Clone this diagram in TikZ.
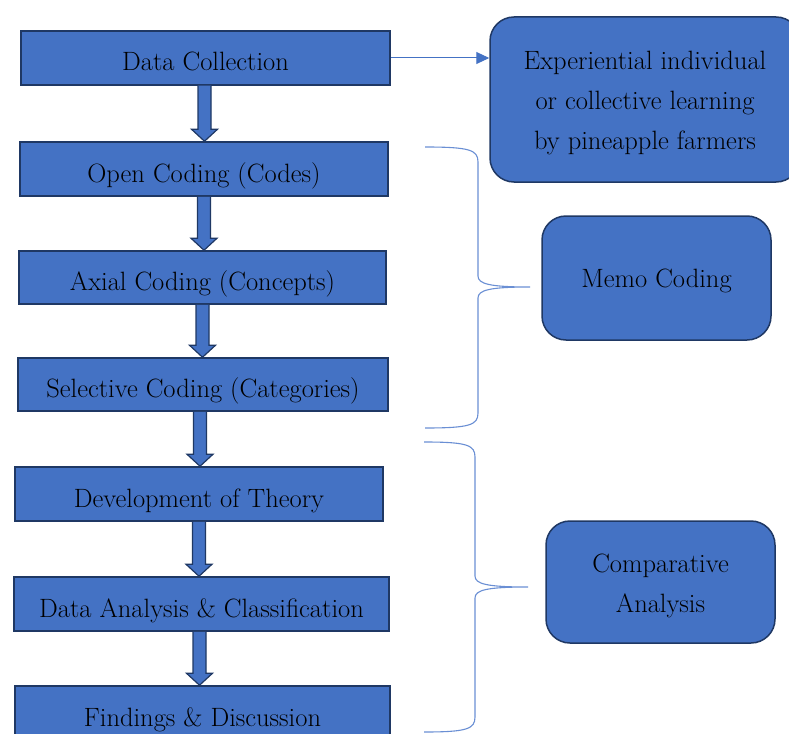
\documentclass[tikz,border=0pt]{standalone}
\usetikzlibrary{calc,arrows.meta}
\definecolor{boxfill}{HTML}{4472C4}
\definecolor{boxline}{HTML}{1F3864}
\definecolor{bracecol}{HTML}{6A8FD4}
\begin{document}
\begin{tikzpicture}[x=1pt,y=-1pt,
  every node/.style={font=\fontsize{26.5}{40}\selectfont, text=black},
  stepbox/.style={draw=boxline, line width=1.5pt, fill=boxfill, rectangle,
    inner sep=0pt, minimum height=54pt, text height=26pt, text depth=0pt},
  sidebox/.style={draw=boxline, line width=1.5pt, fill=boxfill, rounded corners=24pt,
    inner sep=0pt, align=center},
  barrow/.style={draw=boxline, line width=1.2pt, fill=boxfill},
  bracel/.style={draw=bracecol, line width=1.1pt},
  thinarrow/.style={draw=boxfill, line width=1pt, -{Triangle[length=13pt,width=12pt]}}
]
\useasboundingbox (0,0) rectangle (789,733);
\fill[white] (0,0) rectangle (789,733);

\node[stepbox, minimum width=369pt] (dc) at (205.5,58) {Data Collection};
\node[stepbox, minimum width=368pt] (oc) at (204,169) {Open Coding (Codes)};
\node[stepbox, minimum width=367pt, minimum height=53pt] (ac) at (202.5,277.5) {Axial Coding (Concepts)};
\node[stepbox, minimum width=370pt, minimum height=53pt] (sc) at (203,384.5) {Selective Coding (Categories)};
\node[stepbox, minimum width=368pt] (dt) at (199,494) {Development of Theory};
\node[stepbox, minimum width=375pt] (da) at (201.5,604) {Data Analysis \& Classification};
\node[stepbox, minimum width=375pt] (fd) at (202.5,713) {Findings \& Discussion};

\node[sidebox, minimum width=310pt, minimum height=165pt] (ex) at (645,99.5)
  {\rule{0pt}{26pt}Experiential individual\\or collective learning\\by pineapple farmers};
\node[sidebox, minimum width=229pt, minimum height=124pt, text height=24pt] (mc) at (656.5,278) {Memo Coding};
\node[sidebox, minimum width=229pt, minimum height=122pt] (ca) at (660.5,582) {\rule{0pt}{27pt}Comparative\\Analysis};

% block arrows
\newcommand{\blockarrow}[3]{%
  \draw[barrow] ($(#1.south)+(#3-6.5,0)$) -- ($(#1.south |- #2.north)+(#3-6.5,-12)$)
    -- ($(#1.south |- #2.north)+(#3-13,-12)$) -- ($(#1.south |- #2.north)+(#3,0)$)
    -- ($(#1.south |- #2.north)+(#3+13,-12)$) -- ($(#1.south |- #2.north)+(#3+6.5,-12)$)
    -- ($(#1.south)+(#3+6.5,0)$);}
\blockarrow{dc}{oc}{-1}
\blockarrow{oc}{ac}{0}
\blockarrow{ac}{sc}{0}
\blockarrow{sc}{dt}{-3}
\blockarrow{dt}{da}{0}
\blockarrow{da}{fd}{-2}

% arrow to experiential box
\draw[thinarrow] (dc.east |- 0,58) -- (ex.west |- 0,58);

% braces
\coordinate (b1t) at (425,147);
\coordinate (b1m) at (530,287);
\coordinate (b1b) at (425,428);
\draw[bracel] (b1t) .. controls (470,147) and (478,150) .. (478,162)
  -- (478,276) .. controls (478,284) and (490,287) .. (b1m)
  .. controls (490,287) and (478,290) .. (478,298)
  -- (478,413) .. controls (478,425) and (470,428) .. (b1b);
\coordinate (b2t) at (424,442);
\coordinate (b2m) at (528,587);
\coordinate (b2b) at (424,732);
\draw[bracel] (b2t) .. controls (467,442) and (475,445) .. (475,457)
  -- (475,576) .. controls (475,584) and (487,587) .. (b2m)
  .. controls (487,587) and (475,590) .. (475,598)
  -- (475,717) .. controls (475,729) and (467,732) .. (b2b);
\end{tikzpicture}
\end{document}
